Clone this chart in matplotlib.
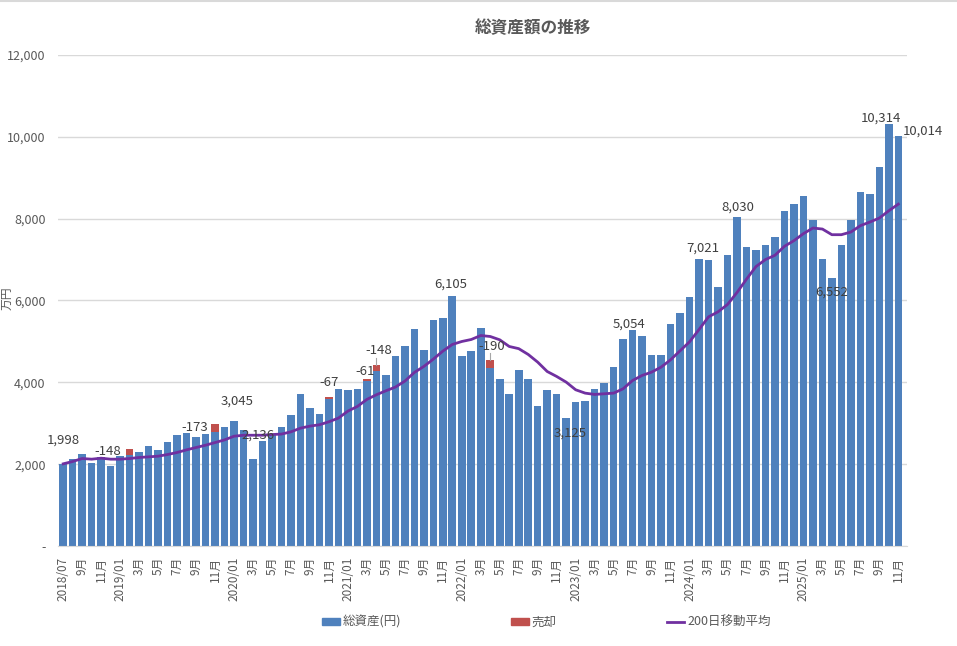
import matplotlib
matplotlib.use("Agg")
import matplotlib.pyplot as plt
from matplotlib.ticker import FuncFormatter
from matplotlib.patches import Patch
from matplotlib.lines import Line2D

plt.rcParams["font.family"] = ["Noto Sans CJK JP", "DejaVu Sans"]

# months 2018/07 .. 2025/11
months = []
for y in range(2018, 2026):
    for m in range(1, 13):
        if (y == 2018 and m < 7) or (y == 2025 and m > 11):
            continue
        months.append((y, m))

# total assets (万円), one value per month
total_assets = [
    1998, 2130, 2252, 2033, 2179, 1959,
    2195, 2228, 2300, 2447, 2350, 2553, 2715, 2764, 2667, 2740, 2797, 2910,
    3045, 2830, 2136, 2569, 2715, 2910, 3195, 3710, 3370, 3215, 3582, 3834,
    3801, 3826, 4021, 4265, 4184, 4648, 4876, 5291, 4778, 5535, 5560, 6105,
    4648, 4754, 5332, 4347, 4086, 3704, 4310, 4086, 3411, 3801, 3704, 3125,
    3508, 3533, 3834, 3972, 4363, 5054, 5267, 5144, 4656, 4656, 5437, 5682,
    6090, 7021, 7000, 6330, 7105, 8030, 7300, 7227, 7349, 7543, 8177, 8347,
    8542, 7958, 7008, 6552, 7349, 7958, 8640, 8591, 9273, 10314, 10014,
]

# sales (売却), by month index
sale_idx = [7, 16, 28, 32, 33, 45]
sale_amount = [148, 173, 67, 61, 148, 190]

# 200-day moving average
moving_avg = [
    2008, 2065, 2138, 2122, 2146, 2122,
    2122, 2138, 2163, 2179, 2195, 2236, 2285, 2350, 2407, 2463, 2528, 2593,
    2683, 2707, 2707, 2707, 2724, 2735, 2790, 2880, 2930, 2963, 3036, 3126,
    3297, 3411, 3582, 3696, 3793, 3883, 4029, 4241, 4388, 4567, 4762, 4925,
    4998, 5047, 5144, 5120, 5039, 4876, 4823, 4681, 4493, 4265, 4143, 4005,
    3818, 3736, 3704, 3720, 3736, 3842, 4045, 4168, 4249, 4371, 4550, 4770,
    4990, 5290, 5600, 5723, 5902, 6195, 6520, 6829, 7000, 7105, 7324, 7462,
    7633, 7771, 7746, 7608, 7608, 7673, 7828, 7917, 8014, 8193, 8355,
]

# labelled bars
label_idx = [0, 18, 20, 41, 53, 59, 67, 71, 81, 87, 88]
# label offsets in pixels (dx, dy) from the bar top
label_off = [(0, 24), (3, 20), (5, 23), (-2, 12), (4, -15), (6, 15),
             (4, 11), (1, 10), (0, -14), (-8, 6), (25, 5)]
sale_off = [(-4, -3), (-3, -3), (0, 14), (-2, 7), (2, 15), (1, 14)]
sale_leader = [False, False, False, False, True, True]

tick_labels = []
for y, m in months:
    if m == 1 or (y, m) == (2018, 7):
        tick_labels.append(f"{y}/{m:02d}")
    else:
        tick_labels.append(f"{m}月")

BLUE = "#4F81BD"
RED = "#C0504D"
PURPLE = "#7030A0"
GRAY = "#595959"

fig = plt.figure(figsize=(9.57, 6.46), dpi=100)
ax = fig.add_axes([0.0606, 0.1548, 0.887, 0.7601])

x = list(range(len(months)))
ax.bar(x, total_assets, width=0.8, color=BLUE, zorder=2)
sale_base = [total_assets[i] for i in sale_idx]
ax.bar(sale_idx, sale_amount, bottom=sale_base, width=0.8, color=RED, zorder=2)
ax.plot(x, moving_avg, color=PURPLE, lw=2, zorder=3)

ax.set_xlim(-0.55, 88.9)
ax.set_ylim(0, 12000)
ax.set_yticks(range(0, 12001, 2000))
ax.yaxis.set_major_formatter(FuncFormatter(lambda v, p: "-" if v == 0 else f"{int(v):,}"))
ax.grid(axis="y", color="#D9D9D9", lw=1, zorder=0)
ax.set_axisbelow(True)
for s in ["top", "right", "left"]:
    ax.spines[s].set_visible(False)
ax.spines["bottom"].set_color("#D9D9D9")

ax.set_xticks(x[::2])
ax.set_xticklabels(tick_labels[::2], rotation=90, fontsize=8.5, color=GRAY)
ax.tick_params(axis="x", length=0, pad=8)
ax.tick_params(axis="y", length=0, labelsize=9, labelcolor=GRAY, pad=9)

ax.set_ylabel("万円", fontsize=8.5, color=GRAY, labelpad=2)
ax.yaxis.set_label_coords(-0.052, 0.505)

for i, (dx, dy) in zip(label_idx, label_off):
    ax.annotate(f"{total_assets[i]:,}", (i, total_assets[i]), xytext=(dx, dy),
                textcoords="offset pixels", ha="center", va="center",
                fontsize=9.5, color="#404040", zorder=4)

for k, i in enumerate(sale_idx):
    dx, dy = sale_off[k]
    top = total_assets[i] + sale_amount[k]
    if dy < 0:
        # label sits to the left of the red segment
        ax.annotate(f"-{sale_amount[k]}", (i - 0.45, top), xytext=(dx, dy),
                    textcoords="offset pixels", ha="right", va="center",
                    fontsize=9.5, color="#404040", zorder=4)
    else:
        ax.annotate(f"-{sale_amount[k]}", (i, top), xytext=(dx, dy),
                    textcoords="offset pixels", ha="center", va="center",
                    fontsize=9.5, color="#404040", zorder=4)
    if sale_leader[k]:
        ax.plot([i, i], [top + 20, top + 170], color="#A6A6A6", lw=0.8, zorder=4)

fig.text(0.557, 0.957, "総資産額の推移", ha="center", va="center",
         fontsize=12, fontweight="bold", color=GRAY)

# chart border line along the top edge
fig.add_artist(Line2D([0, 1], [0.999, 0.999], color="#D9D9D9", lw=1.5,
                      transform=fig.transFigure))

handles = [Patch(color=BLUE), Patch(color=RED), Line2D([], [], color=PURPLE, lw=2)]
fig.legend(handles, ["総資産(円)", "売却", "200日移動平均"], loc="center",
           bbox_to_anchor=(0.571, 0.037), ncol=3, frameon=False,
           fontsize=9, labelcolor=GRAY, columnspacing=8.8, handlelength=1.4,
           handleheight=0.5, handletextpad=0.25)

fig.savefig("out.png", dpi=100)
